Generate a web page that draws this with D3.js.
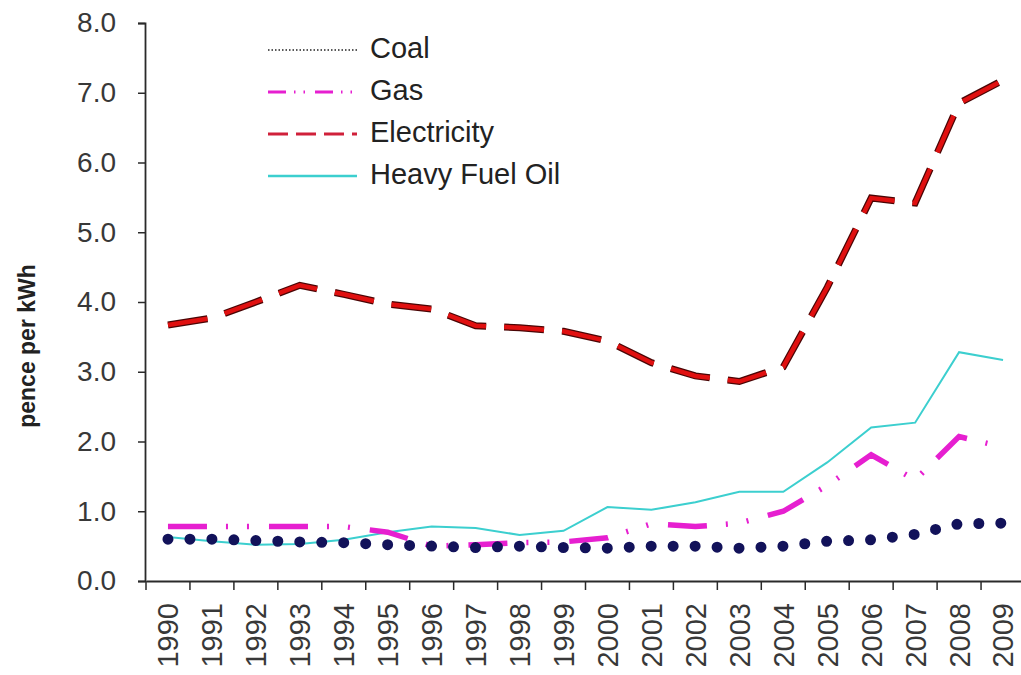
<!DOCTYPE html>
<html>
<head>
<meta charset="utf-8">
<script src="https://cdn.jsdelivr.net/npm/d3@7"></script>
<style>
  html, body { margin: 0; padding: 0; background: #ffffff; }
  svg { display: block; font-family: "Liberation Sans", Arial, sans-serif; }
</style>
</head>
<body>
<svg id="chart" width="1021" height="675"></svg>
<script>
// Fuel prices, pence per kWh, 1990–2009
const years = ["1990","1991","1992","1993","1994","1995","1996","1997","1998","1999",
               "2000","2001","2002","2003","2004","2005","2006","2007","2008","2009"];
const coal        = [0.60,0.60,0.58,0.56,0.55,0.52,0.50,0.48,0.50,0.48,0.47,0.50,0.50,0.47,0.50,0.57,0.59,0.67,0.82,0.83];
const gas         = [0.78,0.78,0.78,0.78,0.78,0.70,0.50,0.52,0.55,0.56,0.62,0.82,0.78,0.83,1.00,1.37,1.81,1.45,2.07,1.92];
const electricity = [3.67,3.77,4.00,4.24,4.11,3.97,3.90,3.66,3.63,3.58,3.44,3.13,2.94,2.86,3.07,4.21,5.49,5.42,6.85,7.18];
const heavyFuelOil= [0.63,0.57,0.52,0.53,0.59,0.70,0.78,0.76,0.66,0.72,1.06,1.02,1.13,1.28,1.28,1.70,2.20,2.27,3.28,3.17];
const yTicks = [0,1,2,3,4,5,6,7,8];
const legendLabels = ["Coal","Gas","Electricity","Heavy Fuel Oil"];

const svg = d3.select("#chart");
const plotLeft = 146, plotRight = 1025, plotTop = 23, plotBottom = 581;

const x = d3.scaleBand().domain(years).range([plotLeft, plotRight]).padding(0);
const cx = d => x(d) + x.bandwidth() / 2;
const y = d3.scaleLinear().domain([0, 8]).range([plotBottom, plotTop]);

const ink = "#2a2a2a";

// y axis
const yAxis = svg.append("g")
  .attr("transform", `translate(${plotLeft - 1},0)`)
  .call(d3.axisLeft(y).tickValues(yTicks).tickFormat(d3.format(".1f"))
        .tickSize(7).tickSizeOuter(7).tickPadding(22));
yAxis.select(".domain").attr("stroke", ink).attr("stroke-width", 1.8);
yAxis.selectAll(".tick line").attr("stroke", ink).attr("stroke-width", 1.5);
yAxis.selectAll(".tick text")
  .attr("fill", "#383838").style("font-size", "28px");

// x axis: labels centred on categories, tick marks on category boundaries
const xAxis = svg.append("g")
  .attr("transform", `translate(0,${plotBottom})`)
  .call(d3.axisBottom(x).tickSize(0).tickSizeOuter(0).tickPadding(0));
xAxis.select(".domain").attr("stroke", ink).attr("stroke-width", 1.8);
xAxis.selectAll(".tick text")
  .attr("transform", "rotate(-90)")
  .attr("text-anchor", "end")
  .attr("x", -22).attr("y", 0).attr("dy", "0.36em")
  .attr("fill", "#383838").style("font-size", "29px");
xAxis.selectAll(".boundary")
  .data(years.map(d => x(d)).concat([x.range()[1]]))
  .join("line")
  .attr("class", "boundary")
  .attr("x1", d => d).attr("x2", d => d)
  .attr("y1", 0).attr("y2", 9)
  .attr("stroke", ink).attr("stroke-width", 1.5);

// axis title
svg.append("text")
  .attr("transform", `translate(35,346) rotate(-90)`)
  .attr("text-anchor", "middle")
  .attr("font-weight", "bold")
  .attr("fill", "#222")
  .style("font-size", "23px")
  .text("pence per kWh");

const line = vals => d3.line()
  .x((d, i) => cx(years[i]))
  .y(d => y(d))(vals);

// Heavy fuel oil: thin solid turquoise
svg.append("path").attr("d", line(heavyFuelOil))
  .attr("fill", "none").attr("stroke", "#3ccfcf").attr("stroke-width", 2);

// Electricity: heavy red dashes with dark edges
svg.append("path").attr("d", line(electricity))
  .attr("fill", "none").attr("stroke", "#4a0505").attr("stroke-width", 7)
  .attr("stroke-dasharray", "40,18");
svg.append("path").attr("d", line(electricity))
  .attr("fill", "none").attr("stroke", "#e01010").attr("stroke-width", 4.5)
  .attr("stroke-dasharray", "40,18");

// Gas: magenta dash-dot-dot
svg.append("path").attr("d", line(gas))
  .attr("fill", "none").attr("stroke", "#e61fd0").attr("stroke-width", 5.5)
  .attr("stroke-dasharray", "39,19,2,19,2,20");

// Coal: round navy dots
svg.append("path").attr("d", line(coal))
  .attr("fill", "none").attr("stroke", "#12125a").attr("stroke-width", 11)
  .attr("stroke-linecap", "round")
  .attr("stroke-dasharray", `0,${x.bandwidth() / 2}`);

// legend
const legendStyles = [
  { stroke: "#222",    width: 1.5, dash: "1.5,2" },
  { stroke: "#e61fd0", width: 3,   dash: "18,8,1.5,8,1.5,10" },
  { stroke: "#d0203a", width: 3,   dash: "20,8" },
  { stroke: "#3ccfcf", width: 2.5, dash: null }
];
const legend = svg.append("g");
legendLabels.forEach((name, i) => {
  const rowY = 48 + i * 42;
  const st = legendStyles[i];
  legend.append("line")
    .attr("x1", 268).attr("x2", 357)
    .attr("y1", rowY + 2).attr("y2", rowY + 2)
    .attr("stroke", st.stroke).attr("stroke-width", st.width)
    .attr("stroke-dasharray", st.dash);
  legend.append("text")
    .attr("x", 370).attr("y", rowY + 10)
    .attr("fill", "#222")
    .style("font-size", "29px")
    .text(name);
});
</script>
</body>
</html>
